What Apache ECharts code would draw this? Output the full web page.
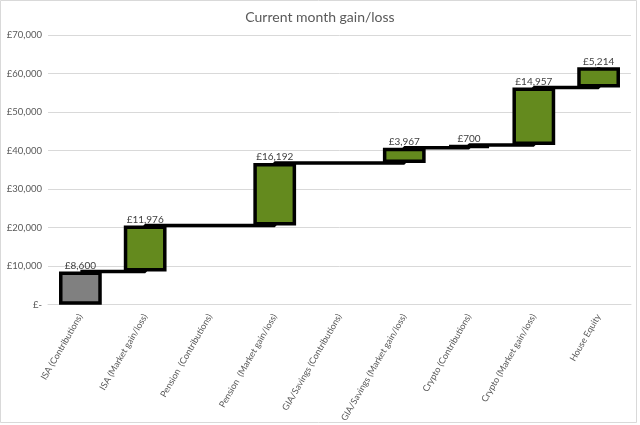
<!DOCTYPE html>
<html>
<head>
<meta charset="utf-8">
<script src="https://cdn.jsdelivr.net/npm/echarts@6/dist/echarts.min.js"></script>
<style>html,body{margin:0;padding:0;background:#fff;}#c{width:640px;height:425px;}</style>
</head>
<body>
<div id="c"></div>
<script>
const categories = ['ISA (Contributions)', 'ISA (Market gain/loss)', 'Pension  (Contributions)', 'Pension  (Market gain/loss)', 'GIA/Savings (Contributions)', 'GIA/Savings (Market gain/loss)', 'Crypto (Contributions)', 'Crypto (Market gain/loss)', 'House Equity'];
const changes = [8600, 11976, 0, 16192, 0, 3967, 700, 14957, 5214];
const isTotal = [true, false, false, false, false, false, false, false, false];
const yTicks = [0, 10000, 20000, 30000, 40000, 50000, 60000, 70000];

const bases = [];
const totals = [];
let run = 0;
changes.forEach((v, i) => {
  bases.push(isTotal[i] ? 0 : run);
  run = isTotal[i] ? v : run + v;
  totals.push(run);
});

const fmt = v => '£' + Math.round(v).toLocaleString('en-GB');

const chart = echarts.init(document.getElementById('c'), null, {renderer: 'canvas'});
chart.setOption({
  animation: false,
  backgroundColor: '#fff',
  title: {
    text: 'Current month gain/loss',
    left: 'center',
    top: 5,
    textStyle: {fontFamily: 'Lato', fontSize: 14, fontWeight: 'normal', color: '#595959'}
  },
  graphic: [{
    type: 'rect', shape: {x: 0.5, y: 0.5, width: 636, height: 422},
    style: {fill: 'none', stroke: '#d9d9d9', lineWidth: 1}, silent: true
  }],
  grid: {left: 48, right: 9, top: 35, bottom: 119},
  xAxis: {
    type: 'category',
    data: categories,
    axisLine: {show: true, lineStyle: {color: '#d9d9d9', width: 1}},
    axisTick: {show: false},
    axisLabel: {rotate: 60, interval: 0, margin: 10, fontFamily: 'Lato', fontSize: 9, color: '#595959'}
  },
  yAxis: {
    type: 'value',
    min: yTicks[0], max: yTicks[yTicks.length - 1], interval: 10000,
    axisLine: {show: false},
    axisTick: {show: false},
    splitLine: {lineStyle: {color: '#d9d9d9', width: 1}},
    axisLabel: {
      margin: 6, fontFamily: 'Lato', fontSize: 9.5, color: '#595959',
      formatter: v => v === 0 ? '£-' : fmt(v)
    }
  },
  series: [
    {
      type: 'line',
      step: 'end',
      data: totals,
      symbol: 'none',
      lineStyle: {color: '#000', width: 3.5},
      z: 1,
      silent: true
    },
    {
      type: 'bar',
      stack: 'w',
      data: bases,
      barWidth: '66%',
      itemStyle: {color: 'transparent', borderWidth: 0},
      z: 2,
      silent: true
    },
    {
      type: 'bar',
      stack: 'w',
      data: changes.map((v, i) => v === 0 ? '-' : {
        value: v,
        itemStyle: {color: isTotal[i] ? '#808080' : '#648a1e'}
      }),
      barWidth: '66%',
      itemStyle: {borderColor: '#000', borderWidth: 3.5},
      label: {
        show: true, position: 'top', distance: 1,
        fontFamily: 'Lato', fontSize: 10, color: '#404040',
        formatter: p => fmt(p.value)
      },
      z: 3
    }
  ]
});
</script>
</body>
</html>
